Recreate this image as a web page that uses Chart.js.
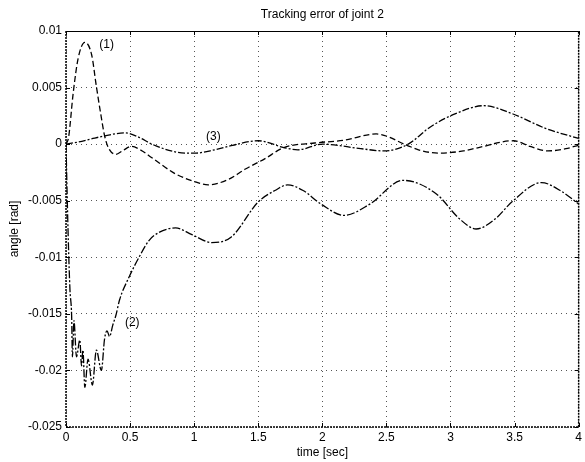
<!DOCTYPE html>
<html>
<head>
<meta charset="utf-8">
<script src="https://cdn.jsdelivr.net/npm/chart.js@4/dist/chart.umd.min.js"></script>
<style>
  html, body { margin: 0; padding: 0; background: #fff; }
  #wrap { width: 585px; height: 462px; }
</style>
</head>
<body>
<div id="wrap"><canvas id="c" width="585" height="462"></canvas></div>
<script>
// Text
const titleText = 'Tracking error of joint 2';
const xTitle = 'time [sec]';
const yTitle = 'angle [rad]';

// Axis ticks
const xTicks = [0, 0.5, 1, 1.5, 2, 2.5, 3, 3.5, 4];
const xTickLabels = ['0', '0.5', '1', '1.5', '2', '2.5', '3', '3.5', '4'];
const yTicks = [0.01, 0.005, 0, -0.005, -0.01, -0.015, -0.02, -0.025];
const yTickLabels = ['0.01', '0.005', '0', '-0.005', '-0.01', '-0.015', '-0.02', '-0.025'];

// Curve (1): time [sec] and error [rad]
const t1 = [0, 0.02, 0.056, 0.095, 0.147, 0.2, 0.237, 0.275, 0.3, 0.33, 0.39, 0.44, 0.51, 0.58, 0.67, 0.85, 1.0, 1.11, 1.27, 1.4, 1.55, 1.7, 1.94, 2.17, 2.42, 2.66, 2.75, 2.91, 3.1, 3.22, 3.49, 3.62, 3.76, 3.9, 4.0];
const e1 = [0, 0.0006, 0.0045, 0.0076, 0.009, 0.0079, 0.0051, 0.0024, 0.0008, -0.0003, -0.0009, -0.0006, -0.0002, -0.0005, -0.0012, -0.0026, -0.0033, -0.0036, -0.0031, -0.0022, -0.0013, -0.0003, 0.0001, 0.00035, 0.0009, -0.0001, -0.0005, -0.0008, -0.0006, -0.0003, 0.0003, -0.0002, -0.0006, -0.0004, -0.0001];

// Curve (2)
const t2 = [0, 0.008, 0.018, 0.031, 0.044, 0.05, 0.062, 0.082, 0.108, 0.121, 0.132, 0.147, 0.172, 0.206, 0.237, 0.276, 0.301, 0.32, 0.34, 0.365, 0.39, 0.417, 0.494, 0.571, 0.649, 0.726, 0.855, 0.983, 1.137, 1.29, 1.5, 1.63, 1.73, 1.85, 1.99, 2.17, 2.37, 2.63, 2.89, 3.07, 3.2, 3.35, 3.48, 3.71, 3.87, 4.0];
const e2 = [0, -0.004, -0.0085, -0.0129, -0.0152, -0.0188, -0.0156, -0.0188, -0.0173, -0.0196, -0.0182, -0.0215, -0.019, -0.0213, -0.0182, -0.02, -0.0172, -0.0165, -0.017, -0.016, -0.0151, -0.0138, -0.0117, -0.00997, -0.0085, -0.0078, -0.0074, -0.008, -0.0087, -0.0082, -0.0051, -0.0041, -0.0036, -0.0041, -0.0053, -0.0063, -0.0053, -0.0032, -0.0044, -0.0066, -0.0075, -0.0066, -0.0051, -0.0034, -0.0042, -0.0053];

// Curve (3)
const t3 = [0, 0.1, 0.21, 0.29, 0.46, 0.57, 0.67, 0.86, 1.0, 1.16, 1.3, 1.5, 1.7, 1.81, 2.0, 2.3, 2.48, 2.67, 2.84, 3.04, 3.26, 3.48, 3.74, 4.0];
const e3 = [0, 0.0002, 0.0005, 0.0007, 0.001, 0.0006, 0, -0.0007, -0.0008, -0.0005, -0.0001, 0.0003, -0.0003, -0.0005, 0, -0.0004, -0.0006, 0, 0.0015, 0.0027, 0.0034, 0.0027, 0.0014, 0.0005];

// Curve annotations placed in data coordinates
const curveLabels = ['(1)', '(2)', '(3)'];
const labelT = [0.317, 0.517, 1.15];
const labelE = [0.00876, -0.0158, 0.00065];

const FONT = 'Arial, "Liberation Sans", Helvetica, sans-serif';
const toPoints = (ts, es) => ts.map((t, i) => ({ x: t, y: es[i] }));

// Box, inward ticks, title and curve labels
const framePlugin = {
  id: 'frame',
  beforeDatasetsDraw(chart) {
    const { ctx, chartArea: a, scales } = chart;
    ctx.save();
    ctx.strokeStyle = '#000';
    // top edge solid
    ctx.lineWidth = 1.2;
    ctx.setLineDash([]);
    ctx.beginPath();
    ctx.moveTo(a.left, a.top + 0.5); ctx.lineTo(a.right, a.top + 0.5);
    ctx.stroke();
    // other edges
    ctx.lineWidth = 1.5;
    ctx.setLineDash([2, 1]);
    ctx.beginPath();
    ctx.moveTo(a.left, a.top); ctx.lineTo(a.left, a.bottom);
    ctx.lineTo(a.right, a.bottom); ctx.lineTo(a.right, a.top);
    ctx.stroke();
    // inward tick marks
    ctx.setLineDash([]);
    ctx.lineWidth = 1;
    ctx.beginPath();
    xTicks.forEach(v => {
      const px = Math.round(scales.x.getPixelForValue(v)) + 0.5;
      ctx.moveTo(px, a.top); ctx.lineTo(px, a.top + 4);
      ctx.moveTo(px, a.bottom); ctx.lineTo(px, a.bottom - 4);
    });
    yTicks.forEach(v => {
      const py = Math.round(scales.y.getPixelForValue(v)) + 0.5;
      ctx.moveTo(a.left, py); ctx.lineTo(a.left + 4, py);
      ctx.moveTo(a.right, py); ctx.lineTo(a.right - 4, py);
    });
    ctx.stroke();
    ctx.restore();
  },
  afterDatasetsDraw(chart) {
    const { ctx, chartArea: a, scales } = chart;
    ctx.save();
    ctx.fillStyle = '#000';
    ctx.textAlign = 'center';
    ctx.textBaseline = 'middle';
    ctx.font = '12px ' + FONT;
    ctx.fillText(titleText, (a.left + a.right) / 2, 15);
    curveLabels.forEach((s, i) => {
      ctx.fillText(s, scales.x.getPixelForValue(labelT[i]), scales.y.getPixelForValue(labelE[i]));
    });
    ctx.restore();
  }
};

const lineStyle = {
  borderColor: '#000',
  borderWidth: 1.3,
  pointRadius: 0,
  fill: false,
  cubicInterpolationMode: 'monotone'
};

new Chart(document.getElementById('c'), {
  type: 'line',
  data: {
    datasets: [
      Object.assign({ label: '(1)', data: toPoints(t1, e1), borderDash: [6, 3] }, lineStyle),
      Object.assign({ label: '(2)', data: toPoints(t2, e2), borderDash: [8, 2, 2, 2] }, lineStyle),
      Object.assign({ label: '(3)', data: toPoints(t3, e3), borderDash: [7, 2, 2, 2] }, lineStyle)
    ]
  },
  options: {
    responsive: false,
    devicePixelRatio: 1,
    animation: false,
    layout: { padding: { top: 31, right: 3, left: 0, bottom: 0 } },
    plugins: {
      legend: { display: false },
      tooltip: { enabled: false },
      title: { display: false }
    },
    scales: {
      x: {
        type: 'linear',
        min: 0, max: 4,
        afterBuildTicks: s => { s.ticks = xTicks.map(v => ({ value: v })); },
        afterFit: s => { s.height = 35; },
        ticks: {
          autoSkip: false, maxRotation: 0, padding: 3,
          color: '#000', font: { family: FONT, size: 12 },
          callback: v => xTickLabels[xTicks.indexOf(v)]
        },
        grid: { color: '#555', lineWidth: 1, drawTicks: false },
        border: { display: false, dash: [1, 4] },
        title: {
          display: true, text: xTitle, color: '#000',
          font: { family: FONT, size: 12 }, padding: { top: 0, bottom: 2 }
        }
      },
      y: {
        type: 'linear',
        min: -0.025, max: 0.01,
        afterBuildTicks: s => { s.ticks = yTicks.map(v => ({ value: v })); },
        afterFit: s => { s.width = 66; },
        ticks: {
          autoSkip: false, padding: 4,
          color: '#000', font: { family: FONT, size: 12 },
          callback: v => yTickLabels[yTicks.indexOf(v)]
        },
        grid: { color: '#555', lineWidth: 1, drawTicks: false },
        border: { display: false, dash: [1, 4] },
        title: {
          display: true, text: yTitle, color: '#000',
          font: { family: FONT, size: 12 }, padding: { top: 7, bottom: 0 }
        }
      }
    }
  },
  plugins: [framePlugin]
});
</script>
</body>
</html>
